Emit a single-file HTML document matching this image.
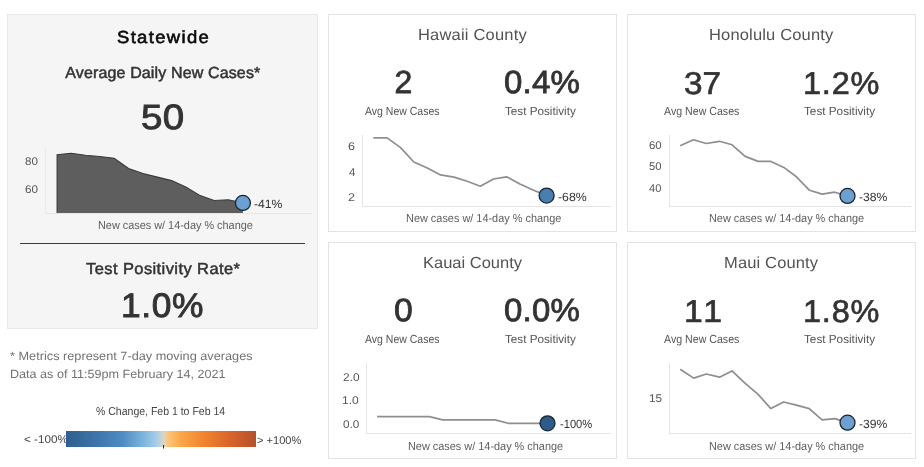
<!DOCTYPE html>
<html><head><meta charset="utf-8"><title>Hawaii COVID-19 Dashboard</title>
<style>
html,body{margin:0;padding:0;background:#fff;}
body{width:924px;height:467px;position:relative;overflow:hidden;font-family:"Liberation Sans", sans-serif;}
#txt{position:absolute;left:0;top:0;width:924px;height:467px;will-change:transform;}
.t{position:absolute;white-space:nowrap;line-height:normal;font-family:"Liberation Sans", sans-serif;transform-origin:0 0;text-rendering:geometricPrecision;}
.p{position:absolute;box-sizing:border-box;border:1px solid #e3e3e3;background:#fff;}
svg{position:absolute;left:0;top:0;}
#bar{position:absolute;left:66px;top:430.5px;width:190px;height:16.8px;background:linear-gradient(to right,#2e5f8e 0%,#3b73a8 15%,#4f8cc4 30%,#79b2dd 40%,#a3cde8 47.5%,#d9d5c9 51.3%,#fcc477 54%,#fba84c 60%,#f2852f 72%,#da652a 86%,#b5512c 100%);}
</style></head><body>

<div class="p" style="left:7px;top:14px;width:311px;height:315px;background:#f5f5f5;border-color:#e8e8e8;"></div>
<div class="p" style="left:328px;top:14px;width:289px;height:218px;"></div>
<div class="p" style="left:627px;top:14px;width:289px;height:218px;"></div>
<div class="p" style="left:328px;top:242px;width:289px;height:217px;"></div>
<div class="p" style="left:627px;top:242px;width:289px;height:217px;"></div>
<div id="txt">
<div class="t" style="left:116.94px;top:27.00px;font-size:17.4px;color:#0a0a0a;letter-spacing:1.272px;-webkit-text-stroke:0.6px #0a0a0a;transform:scaleX(1.0600);">Statewide</div>
<div class="t" style="left:65.25px;top:65.00px;font-size:16px;color:#333;letter-spacing:0.141px;-webkit-text-stroke:0.5px #333;">Average Daily New Cases*</div>
<div class="t" style="left:141.19px;top:98.00px;font-size:35px;color:#333;letter-spacing:0.316px;-webkit-text-stroke:0.9px #333;transform:scaleX(1.1000);">50</div>
<div class="t" style="left:25.24px;top:156.00px;font-size:11.2px;color:#555;transform:scaleX(1.0314);">80</div>
<div class="t" style="left:25.05px;top:184.00px;font-size:11.2px;color:#555;transform:scaleX(1.0469);">60</div>
<div class="t" style="left:254.32px;top:197.00px;font-size:12px;color:#333;transform:scaleX(1.0153);">-41%</div>
<div class="t" style="left:97.95px;top:220.00px;font-size:11.5px;color:#5e5e5e;transform:scaleX(0.9459);">New cases w/ 14-day % change</div>
<div class="t" style="left:86.00px;top:261.00px;font-size:16px;color:#333;letter-spacing:0.405px;-webkit-text-stroke:0.5px #333;transform:scaleX(1.0300);">Test Positivity Rate*</div>
<div class="t" style="left:121.36px;top:287.00px;font-size:34px;color:#333;letter-spacing:0.619px;-webkit-text-stroke:0.9px #333;transform:scaleX(1.0400);">1.0%</div>
<div class="t" style="left:9.90px;top:349.00px;font-size:12px;color:#727272;transform:scaleX(1.0604);">* Metrics represent 7-day moving averages</div>
<div class="t" style="left:9.52px;top:367.00px;font-size:12px;color:#727272;transform:scaleX(1.0500);">Data as of 11:59pm February 14, 2021</div>
<div class="t" style="left:95.97px;top:406.00px;font-size:11.5px;color:#444;transform:scaleX(0.9137);">% Change, Feb 1 to Feb 14</div>
<div class="t" style="left:24.05px;top:434.00px;font-size:11.2px;color:#444;transform:scaleX(1.0469);">&lt; -100%</div>
<div class="t" style="left:256.58px;top:435.00px;font-size:11.2px;color:#444;transform:scaleX(0.9914);">&gt; +100%</div>
<div class="t" style="left:417.61px;top:27.00px;font-size:16px;color:#525252;letter-spacing:0.197px;transform:scaleX(1.0300);">Hawaii County</div>
<div class="t" style="left:394.50px;top:64.00px;font-size:32px;color:#333;-webkit-text-stroke:0.8px #333;">2</div>
<div class="t" style="left:503.98px;top:64.00px;font-size:32px;color:#333;letter-spacing:0.214px;-webkit-text-stroke:0.8px #333;transform:scaleX(1.0300);">0.4%</div>
<div class="t" style="left:365.00px;top:105.00px;font-size:11.7px;color:#555;transform:scaleX(0.8989);">Avg New Cases</div>
<div class="t" style="left:505.02px;top:105.00px;font-size:11.7px;color:#555;">Test Positivity</div>
<div class="t" style="left:348.41px;top:141.00px;font-size:11.2px;color:#555;transform:scaleX(1.1238);">6</div>
<div class="t" style="left:348.82px;top:167.00px;font-size:11.2px;color:#555;transform:scaleX(1.0216);">4</div>
<div class="t" style="left:348.41px;top:192.00px;font-size:11.2px;color:#555;transform:scaleX(1.1238);">2</div>
<div class="t" style="left:558.02px;top:190.00px;font-size:12px;color:#333;transform:scaleX(1.0263);">-68%</div>
<div class="t" style="left:405.85px;top:213.00px;font-size:11.5px;color:#5e5e5e;transform:scaleX(0.9490);">New cases w/ 14-day % change</div>
<div class="t" style="left:709.01px;top:27.00px;font-size:16px;color:#525252;letter-spacing:0.169px;transform:scaleX(1.0300);">Honolulu County</div>
<div class="t" style="left:684.00px;top:65.00px;font-size:31.5px;color:#333;-webkit-text-stroke:0.65px #333;transform:scaleX(1.0560);">37</div>
<div class="t" style="left:802.91px;top:65.00px;font-size:31.5px;color:#333;letter-spacing:0.768px;-webkit-text-stroke:0.65px #333;transform:scaleX(1.0300);">1.2%</div>
<div class="t" style="left:663.90px;top:105.00px;font-size:11.7px;color:#555;transform:scaleX(0.9086);">Avg New Cases</div>
<div class="t" style="left:803.82px;top:105.00px;font-size:11.7px;color:#555;transform:scaleX(1.0044);">Test Positivity</div>
<div class="t" style="left:648.96px;top:140.00px;font-size:11.2px;color:#555;transform:scaleX(1.0211);">60</div>
<div class="t" style="left:649.15px;top:161.00px;font-size:11.2px;color:#555;transform:scaleX(1.0060);">50</div>
<div class="t" style="left:649.33px;top:183.00px;font-size:11.2px;color:#555;transform:scaleX(0.9913);">40</div>
<div class="t" style="left:859.42px;top:190.00px;font-size:12px;color:#333;transform:scaleX(1.0117);">-38%</div>
<div class="t" style="left:709.15px;top:213.00px;font-size:11.5px;color:#5e5e5e;transform:scaleX(0.9478);">New cases w/ 14-day % change</div>
<div class="t" style="left:422.51px;top:255.00px;font-size:16px;color:#525252;transform:scaleX(1.0300);">Kauai County</div>
<div class="t" style="left:394.27px;top:292.00px;font-size:32px;color:#333;-webkit-text-stroke:0.8px #333;transform:scaleX(1.0536);">0</div>
<div class="t" style="left:503.98px;top:292.00px;font-size:32px;color:#333;letter-spacing:0.214px;-webkit-text-stroke:0.8px #333;transform:scaleX(1.0300);">0.0%</div>
<div class="t" style="left:365.00px;top:333.00px;font-size:11.7px;color:#555;transform:scaleX(0.8989);">Avg New Cases</div>
<div class="t" style="left:505.02px;top:333.00px;font-size:11.7px;color:#555;">Test Positivity</div>
<div class="t" style="left:342.64px;top:372.00px;font-size:11.2px;color:#555;transform:scaleX(1.0633);">2.0</div>
<div class="t" style="left:342.45px;top:395.00px;font-size:11.2px;color:#555;transform:scaleX(1.0760);">1.0</div>
<div class="t" style="left:342.83px;top:419.00px;font-size:11.2px;color:#555;transform:scaleX(1.0508);">0.0</div>
<div class="t" style="left:560.35px;top:417.00px;font-size:12px;color:#333;transform:scaleX(0.9277);">-100%</div>
<div class="t" style="left:407.65px;top:441.00px;font-size:11.5px;color:#5e5e5e;transform:scaleX(0.9478);">New cases w/ 14-day % change</div>
<div class="t" style="left:724.01px;top:255.00px;font-size:16px;color:#525252;letter-spacing:0.153px;transform:scaleX(1.0300);">Maui County</div>
<div class="t" style="left:683.64px;top:293.00px;font-size:31.5px;color:#333;letter-spacing:2.793px;-webkit-text-stroke:0.65px #333;transform:scaleX(1.0700);">11</div>
<div class="t" style="left:802.91px;top:293.00px;font-size:31.5px;color:#333;letter-spacing:0.768px;-webkit-text-stroke:0.65px #333;transform:scaleX(1.0300);">1.8%</div>
<div class="t" style="left:663.90px;top:333.00px;font-size:11.7px;color:#555;transform:scaleX(0.9086);">Avg New Cases</div>
<div class="t" style="left:803.82px;top:333.00px;font-size:11.7px;color:#555;transform:scaleX(1.0044);">Test Positivity</div>
<div class="t" style="left:648.76px;top:393.00px;font-size:11.2px;color:#555;transform:scaleX(1.0527);">15</div>
<div class="t" style="left:859.42px;top:417.00px;font-size:12px;color:#333;transform:scaleX(1.0117);">-39%</div>
<div class="t" style="left:709.15px;top:441.00px;font-size:11.5px;color:#5e5e5e;transform:scaleX(0.9478);">New cases w/ 14-day % change</div>
</div>
<svg width="924" height="467" viewBox="0 0 924 467">
<line x1="45.5" y1="148" x2="45.5" y2="214" stroke="#e9e9e9" stroke-width="1"/>
<line x1="45" y1="213.5" x2="312" y2="213.5" stroke="#e6e6e6" stroke-width="1"/>
<polygon points="57.1,154.8 71.1,153.3 85.5,155.3 99.8,156.5 114.2,158.3 128.6,168.5 143,173.5 157.4,177.1 171.6,180.6 185.8,187 200.2,195.6 214.2,200.5 228.2,199.7 242.9,202.9 242.9,213 57.1,213" fill="#5e5e5e"/>
<polyline points="57.1,213 57.1,154.8 71.1,153.3 85.5,155.3 99.8,156.5 114.2,158.3 128.6,168.5 143,173.5 157.4,177.1 171.6,180.6 185.8,187 200.2,195.6 214.2,200.5 228.2,199.7 242.9,202.9" fill="none" stroke="#3a3a3a" stroke-width="1.1"/>
<circle cx="242.9" cy="202.9" r="7.5" fill="#6ba0d0" stroke="#1a2533" stroke-width="1.3"/>
<line x1="20" y1="243.5" x2="305" y2="243.5" stroke="#3c3c3c" stroke-width="1"/>
<line x1="362.5" y1="135" x2="362.5" y2="207.0" stroke="#e4e4e4" stroke-width="1"/>
<line x1="362.0" y1="206.5" x2="611" y2="206.5" stroke="#e4e4e4" stroke-width="1"/>
<polyline points="373.3,137.9 387.1,137.9 400.6,147.6 413.8,162 427.3,168 440.5,174.9 454,177.1 467.2,181.2 480.3,186.2 493.5,179 506.7,176.8 519.9,184 533.1,190 546.6,195.6" fill="none" stroke="#8e8e8e" stroke-width="1.7" stroke-linejoin="round"/>
<circle cx="546.6" cy="195.6" r="7.5" fill="#4a7eb0" stroke="#1a2533" stroke-width="1.3"/>
<line x1="669.5" y1="135" x2="669.5" y2="207.0" stroke="#e4e4e4" stroke-width="1"/>
<line x1="669.0" y1="206.5" x2="911" y2="206.5" stroke="#e4e4e4" stroke-width="1"/>
<polyline points="680.2,145.7 693.4,139.8 706.3,143.5 719.5,141.3 732,144.8 745.2,156.4 758.1,161.4 770.9,161.4 783.8,167.4 796.4,176.8 809.5,190.3 822.1,194.1 834.6,192.2 847.5,195.9" fill="none" stroke="#8e8e8e" stroke-width="1.7" stroke-linejoin="round"/>
<circle cx="847.5" cy="195.9" r="7.5" fill="#6ba0d0" stroke="#1a2533" stroke-width="1.3"/>
<line x1="366.5" y1="363" x2="366.5" y2="434.0" stroke="#e4e4e4" stroke-width="1"/>
<line x1="366.0" y1="433.5" x2="611" y2="433.5" stroke="#e4e4e4" stroke-width="1"/>
<polyline points="377.1,416.7 390.2,416.7 403.3,416.7 416.4,416.7 429.5,416.7 442.6,419.9 455.7,419.9 468.9,419.9 482,419.9 495.1,419.9 508.2,423.3 521.3,423.3 534.4,423.3 547.5,423.3" fill="none" stroke="#8e8e8e" stroke-width="1.7" stroke-linejoin="round"/>
<circle cx="547.5" cy="423.3" r="7.5" fill="#2b5c8a" stroke="#1a2533" stroke-width="1.3"/>
<line x1="669.5" y1="363" x2="669.5" y2="434.0" stroke="#e4e4e4" stroke-width="1"/>
<line x1="669.0" y1="433.5" x2="911" y2="433.5" stroke="#e4e4e4" stroke-width="1"/>
<polyline points="680.2,369.3 693.7,378.1 706.3,374 719.5,377.2 732,370.9 745.2,383.4 758.1,394.4 770.9,408.6 783.5,402 796.4,405.1 809.2,408.6 822.1,419.9 835,418.6 847.5,422.7" fill="none" stroke="#8e8e8e" stroke-width="1.7" stroke-linejoin="round"/>
<circle cx="847.5" cy="422.7" r="7.5" fill="#6ba0d0" stroke="#1a2533" stroke-width="1.3"/>
</svg>
<div id="bar"></div>
<svg width="924" height="467" viewBox="0 0 924 467"><line x1="163.5" y1="445" x2="163.5" y2="448.5" stroke="#222" stroke-width="1"/></svg>
</body></html>
